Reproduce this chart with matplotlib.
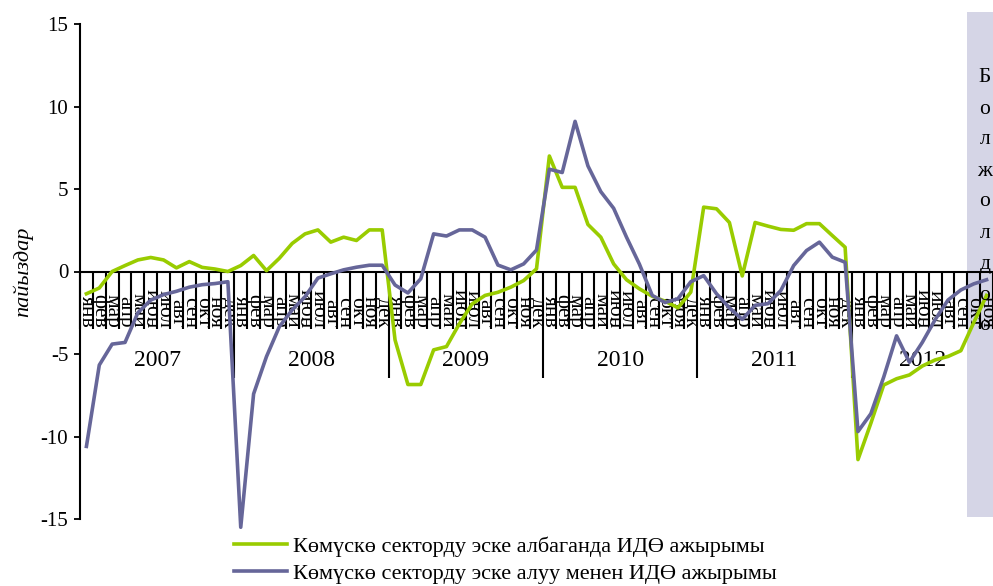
import matplotlib
matplotlib.use("Agg")
import matplotlib.pyplot as plt
import numpy as np

plt.rcParams['font.family'] = ['Liberation Serif', 'DejaVu Serif']
plt.rcParams['axes.unicode_minus'] = False

# months / years on the category axis
months = ['янв', 'фев', 'мар', 'апр', 'май', 'июн', 'июл', 'авг', 'сен', 'окт', 'ноя', 'дек']
years = ['2007', '2008', '2009', '2010', '2011', '2012']
months_2012 = 11

# output gap without the shadow sector (green)
gap_no_shadow = [
    -1.35, -1.0, 0.0, 0.36, 0.7, 0.85, 0.7, 0.22, 0.6, 0.25, 0.15, 0.0,
    0.36, 0.97, 0.05, 0.8, 1.7, 2.28, 2.52, 1.78, 2.08, 1.88, 2.52, 2.52,
    -4.15, -6.85, -6.85, -4.75, -4.55, -3.17, -1.96, -1.45, -1.26, -0.95, -0.55, 0.16,
    7.0, 5.1, 5.1, 2.85, 2.08, 0.46, -0.5, -1.05, -1.5, -1.8, -2.2, -1.25,
    3.9, 3.8, 2.97, -0.27, 2.97, 2.75, 2.55, 2.5, 2.9, 2.9, 2.18, 1.47,
    -11.4, -9.2, -6.88, -6.5, -6.27, -5.73, -5.36, -5.15, -4.8, -3.1, -1.45,
]
# output gap with the shadow sector (blue)
gap_shadow = [
    -10.6, -5.67, -4.4, -4.3, -2.5, -1.73, -1.4, -1.2, -0.95, -0.8, -0.73, -0.62,
    -15.5, -7.42, -5.16, -3.35, -2.33, -1.53, -0.4, -0.14, 0.1, 0.26, 0.38, 0.38,
    -0.82, -1.3, -0.44, 2.28, 2.15, 2.52, 2.52, 2.08, 0.39, 0.1, 0.46, 1.3,
    6.2, 6.0, 9.1, 6.4, 4.84, 3.83, 2.08, 0.45, -1.45, -1.88, -1.65, -0.62,
    -0.25, -1.35, -2.2, -2.9, -2.05, -1.95, -1.15, 0.36, 1.27, 1.78, 0.87, 0.56,
    -9.7, -8.62, -6.4, -3.9, -5.5, -4.3, -2.92, -1.73, -1.12, -0.75, -0.5,
]
forecast_start = 69  # окт 2012
forecast_word = 'Болжолдоо'

labels = months * 5 + months[:months_2012]
n = len(labels)
x = np.arange(n)

fig = plt.figure(figsize=(9.93, 5.86), dpi=100)
ax = fig.add_axes([80 / 993, 1 - 519 / 586, 913 / 993, 495 / 586])

# forecast band
ax.axvspan(forecast_start - 0.5, n - 0.5 + 1, ymin=0.004, ymax=1.024,
           color='#d5d5e6', zorder=0, clip_on=False, lw=0)

ax.plot(x, gap_no_shadow, color='#99cc00', lw=2.6, zorder=4, clip_on=False,
        label='Көмүскө секторду эске албаганда ИДӨ ажырымы')
ax.plot(x, gap_shadow, color='#666699', lw=2.6, zorder=4, clip_on=False,
        label='Көмүскө секторду эске алуу менен ИДӨ ажырымы')

ax.set_xlim(-0.5, n - 0.5)
ax.set_ylim(-15, 15)
ax.set_yticks([-15, -10, -5, 0, 5, 10, 15])
ax.tick_params(axis='y', direction='out', length=4.5, width=1.3, labelsize=15, pad=4)

for s in ['top', 'right']:
    ax.spines[s].set_visible(False)
ax.spines['bottom'].set_position(('data', 0))
ax.spines['bottom'].set_linewidth(1.5)
ax.spines['left'].set_linewidth(1.5)

# month separators and year separators as ticks
ax.set_xticks(np.arange(12, n, 12) - 0.5)
ax.set_xticks(np.arange(0, n + 1) - 0.5, minor=True)
ax.tick_params(axis='x', which='major', direction='out', length=76, width=1.5, labelbottom=False)
ax.tick_params(axis='x', which='minor', direction='out', length=41, width=1.5, labelbottom=False)

trans = ax.get_xaxis_transform()
for i, m in enumerate(labels):
    ax.text(i, (519 - 328) / 495, m, rotation=270, ha='center', va='bottom',
            fontsize=15.5, transform=trans, zorder=2)

for k, yr in enumerate(years):
    last = min(12 * k + 11, n - 1)
    ax.text((12 * k + last) / 2, (519 - 361) / 495, yr, ha='center', va='center',
            fontsize=17, transform=trans)

ax.set_ylabel('пайыздар', fontsize=16, style='italic', labelpad=5)

for k, ch in enumerate(forecast_word):
    fig.text(985 / 993, 1 - (78 + 31 * k) / 586, ch, ha='center', va='center', fontsize=15.5)

fig.legend(loc='upper left', bbox_to_anchor=(234 / 993, 1 - 536 / 586), frameon=False,
           fontsize=16, handlelength=2.4, handletextpad=0.25, labelspacing=0.3,
           borderpad=0, borderaxespad=0)

fig.savefig('out.png', dpi=100)
